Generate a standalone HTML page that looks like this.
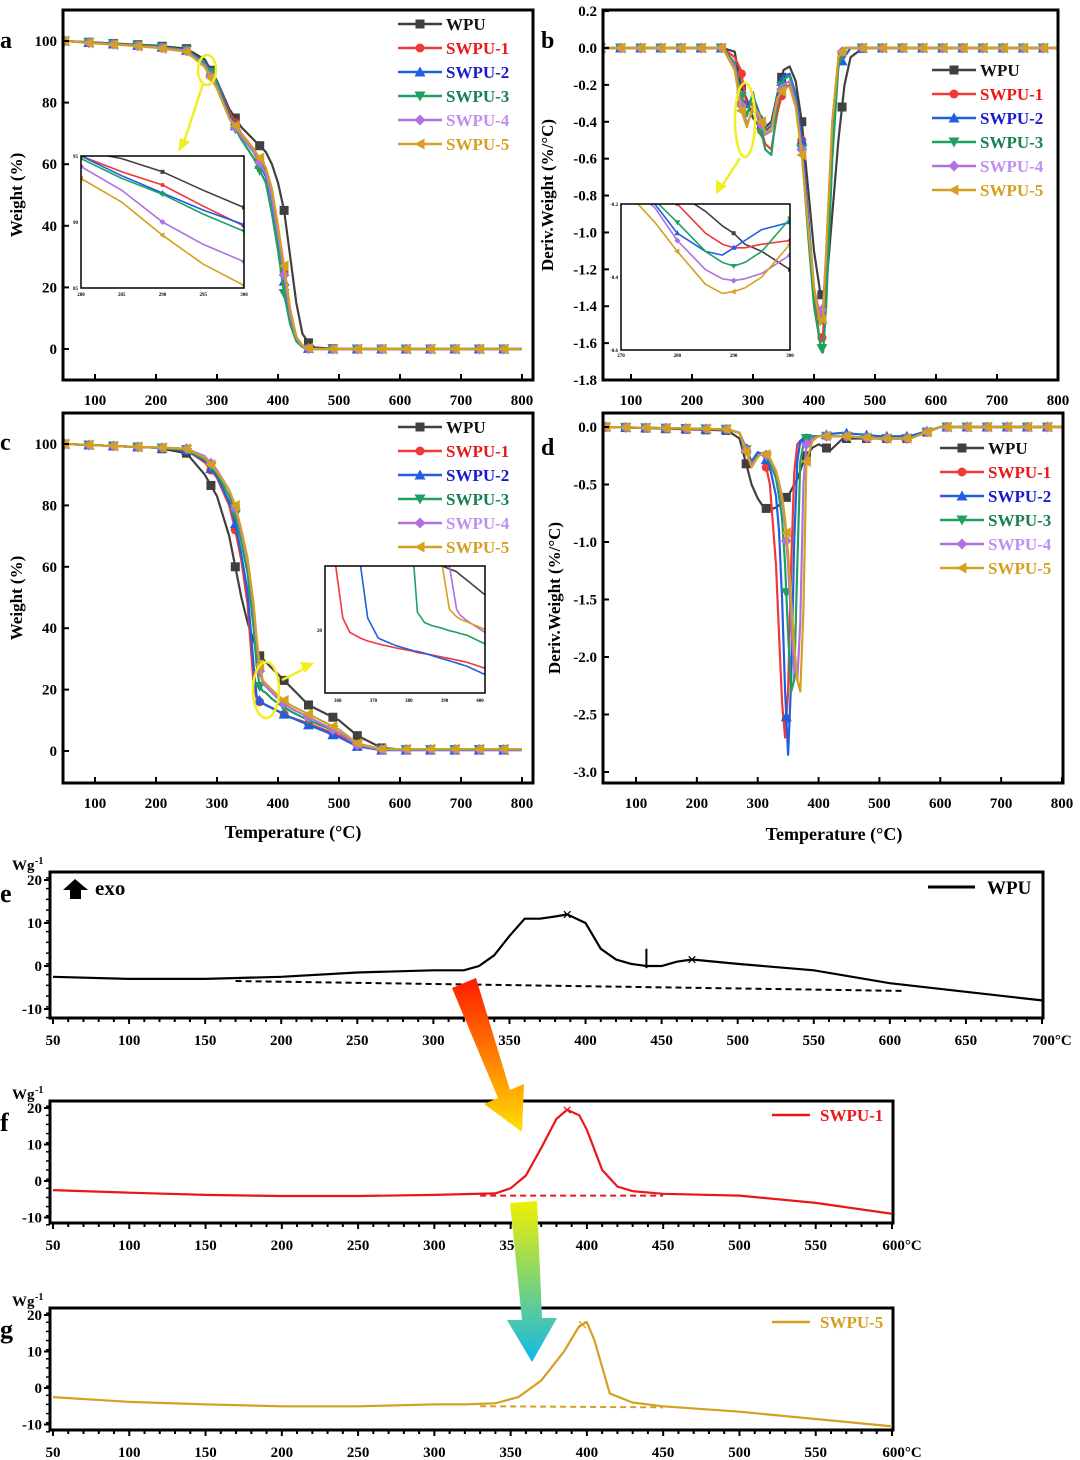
<!DOCTYPE html>
<html><head><meta charset="utf-8"><style>
html,body{margin:0;padding:0;background:#fff;}
svg{display:block;font-family:"Liberation Serif",serif;font-weight:bold;}
</style></head><body>
<svg id="fig" width="1080" height="1460" viewBox="0 0 1080 1460" xmlns="http://www.w3.org/2000/svg">
<defs>
<linearGradient id="g1" x1="0" y1="0" x2="0" y2="1"><stop offset="0" stop-color="#ff1a00"/><stop offset="1" stop-color="#ffe000"/></linearGradient>
<linearGradient id="g2" x1="0" y1="0" x2="0" y2="1"><stop offset="0" stop-color="#f0f000"/><stop offset="1" stop-color="#10b8e8"/></linearGradient>
</defs>
</svg>
<script>
// ---- data ----
const seriesNames = ["WPU","SWPU-1","SWPU-2","SWPU-3","SWPU-4","SWPU-5"];
// panel a: TGA weight (%)
const aT = [50,100,150,200,250,280,300,320,340,360,380,390,400,410,420,430,440,450,460,500,600,700,800];
const aWPU  =[100,99.5,99,98.5,97.5,94,87,78,72,68,64,60,54,45,30,15,5,2,0.5,0,0,0,0];
const aS1   =[100,99.4,98.8,98.2,97,93,87,77,70,65,58,50,38,25,12,4,1,0.3,0,0,0,0,0];
const aS2   =[100,99.4,98.8,98.2,97,93,87,76,69,64,56,48,36,22,10,3,0.8,0.2,0,0,0,0,0];
const aS3   =[100,99.4,98.8,98.2,97,92.8,86.5,75,68,62,54,44,32,18,8,2.5,0.6,0,0,0,0,0,0];
const aS4   =[100,99.3,98.7,98,96.8,92,85,75,69,64,57,49,37,24,11,3.5,0.8,0.2,0,0,0,0,0];
const aS5   =[100,99.2,98.6,97.8,96.5,91.5,84.5,75,70,65,59,52,40,27,13,4,1,0.3,0,0,0,0,0];
// inset a
const aiT=[280,285,290,295,300];
const aiWPU=[95.4,94.8,93.8,92.4,91.1];
const aiS1=[95,93.8,92.8,91.2,89.7];
const aiS2=[95,93.5,92.2,90.9,89.8];
const aiS3=[94.8,93.3,92.1,90.6,89.3];
const aiS4=[94.2,92.4,90.0,88.3,87.0];
const aiS5=[93.3,91.5,89,86.8,85.2];
// panel b: DTG
const bT=[50,250,270,280,290,300,310,320,330,340,350,360,370,380,390,400,410,415,420,430,440,450,460,480,800];
const bWPU=[0,0,-0.02,-0.2,-0.28,-0.38,-0.42,-0.43,-0.4,-0.25,-0.12,-0.1,-0.18,-0.4,-0.75,-1.1,-1.32,-1.35,-1.3,-0.9,-0.5,-0.2,-0.05,0,0];
const bS1=[0,0,-0.05,-0.12,-0.32,-0.3,-0.4,-0.52,-0.55,-0.35,-0.22,-0.2,-0.3,-0.5,-0.9,-1.35,-1.6,-1.55,-1.2,-0.5,-0.08,0,0,0,0];
const bS2=[0,0,-0.08,-0.28,-0.32,-0.26,-0.35,-0.45,-0.42,-0.25,-0.15,-0.14,-0.25,-0.5,-0.9,-1.3,-1.5,-1.45,-1.15,-0.45,-0.1,-0.05,0,0,0];
const bS3=[0,0,-0.08,-0.25,-0.37,-0.24,-0.4,-0.55,-0.58,-0.3,-0.17,-0.15,-0.28,-0.55,-1.0,-1.4,-1.6,-1.65,-1.4,-0.6,-0.1,0,0,0,0];
const bS4=[0,0,-0.1,-0.3,-0.41,-0.34,-0.38,-0.47,-0.45,-0.28,-0.2,-0.18,-0.3,-0.55,-0.95,-1.3,-1.45,-1.4,-1.1,-0.4,-0.05,0,0,0,0];
const bS5=[0,0,-0.12,-0.33,-0.43,-0.31,-0.36,-0.46,-0.44,-0.27,-0.22,-0.21,-0.32,-0.58,-0.95,-1.3,-1.5,-1.45,-1.1,-0.4,-0.05,0,0,0,0];
// inset b
const biT=[270,273,276,280,285,288,290,292,295,300];
const biWPU=[-0.1,-0.12,-0.15,-0.17,-0.22,-0.26,-0.28,-0.31,-0.33,-0.38];
const biS1=[-0.1,-0.13,-0.16,-0.2,-0.28,-0.31,-0.32,-0.32,-0.31,-0.3];
const biS2=[-0.14,-0.17,-0.2,-0.28,-0.33,-0.34,-0.32,-0.3,-0.27,-0.25];
const biS3=[-0.12,-0.15,-0.19,-0.25,-0.33,-0.36,-0.37,-0.36,-0.33,-0.24];
const biS4=[-0.14,-0.17,-0.21,-0.3,-0.38,-0.405,-0.41,-0.405,-0.39,-0.34];
const biS5=[-0.15,-0.2,-0.25,-0.33,-0.42,-0.445,-0.44,-0.43,-0.4,-0.31];
// panel c: TGA
const cT=[50,100,150,200,250,280,300,320,330,340,350,360,365,370,375,380,390,400,420,450,500,530,570,600,800];
const cWPU=[100,99.6,99.2,98.8,97,90,83,70,60,50,42,36,33,31,30,29,27,25,21,15,10,5,1,0.5,0.5];
const cS1=[100,99.6,99.2,98.8,98,94,89,80,72,62,48,22,17,16,15.5,15,14,13,11,9,5,2,0.5,0.5,0.5];
const cS2=[100,99.6,99.2,98.8,98,94.5,89.5,81,74,64,52,28,18,16.5,15.5,15,14,13,11,8.5,4.5,1.5,0.3,0.3,0.3];
const cS3=[100,99.6,99.2,98.8,98.2,95,90.5,83,77,68,58,40,28,21,19.5,19,17,15.5,13,10,6,2,0.5,0.5,0.5];
const cS4=[100,99.6,99.2,98.9,98.5,96,91.5,85,79,71,62,46,35,26,22,21,19,17,14,11,6,2,0.5,0.5,0.5];
const cS5=[100,99.6,99.2,98.9,98.4,95.5,91,85,80,72,63,48,37,28,23,22,20,18,15,12,7,2.5,0.6,0.6,0.6];
// inset c
const ciT=[355,358,360,362,365,367,370,375,380,381,383,385,388,390,392,393,395,400];
const ciWPU=[null,null,null,null,null,null,null,null,null,null,null,null,30,29.5,29,28.5,27.5,25];
const ciS1=[null,30,21,18.5,17.5,17,16.5,15.8,15.2,15,14.8,14.6,14.2,14,13.7,13.6,13.3,12.3];
const ciS2=[null,null,null,null,30,21,17.5,16.2,15.3,15.2,14.9,14.5,13.9,13.6,13.2,13,12.6,11.2];
const ciS3=[null,null,null,null,null,null,null,null,30,22,20.2,19.7,19.2,18.8,18.5,18.3,18,16.5];
const ciS4=[null,null,null,null,null,null,null,null,null,null,null,null,null,30,22.5,21.5,20.5,18.5];
const ciS5=[null,null,null,null,null,null,null,null,null,null,null,null,30,22.5,21.2,20.8,20.3,19];
// panel d: DTG
const dT=[50,250,270,290,300,310,320,330,335,340,345,350,355,360,365,370,375,380,390,400,420,440,500,550,600,800];
const dWPU=[0,-0.03,-0.1,-0.5,-0.62,-0.7,-0.72,-0.7,-0.68,-0.65,-0.62,-0.6,-0.55,-0.5,-0.45,-0.38,-0.3,-0.25,-0.18,-0.15,-0.2,-0.1,-0.1,-0.1,0,0];
const dS1=[0,-0.02,-0.05,-0.3,-0.22,-0.25,-0.5,-1.2,-1.8,-2.4,-2.7,-2.3,-1.2,-0.4,-0.15,-0.12,-0.1,-0.1,-0.08,-0.08,-0.08,-0.08,-0.1,-0.1,0,0];
const dS2=[0,-0.02,-0.05,-0.3,-0.22,-0.24,-0.35,-0.6,-0.9,-1.5,-2.3,-2.85,-2.2,-1.0,-0.3,-0.12,-0.1,-0.1,-0.08,-0.08,-0.06,-0.05,-0.08,-0.08,0,0];
const dS3=[0,-0.02,-0.05,-0.32,-0.25,-0.23,-0.3,-0.45,-0.6,-0.8,-1.2,-1.8,-2.3,-2.2,-1.2,-0.3,-0.15,-0.1,-0.08,-0.08,-0.08,-0.08,-0.1,-0.1,0,0];
const dS4=[0,-0.02,-0.05,-0.33,-0.26,-0.22,-0.28,-0.4,-0.5,-0.65,-0.85,-1.2,-1.7,-2.1,-2.2,-1.7,-0.5,-0.15,-0.1,-0.08,-0.08,-0.08,-0.1,-0.1,0,0];
const dS5=[0,-0.02,-0.05,-0.35,-0.26,-0.22,-0.27,-0.38,-0.48,-0.6,-0.8,-1.1,-1.5,-1.9,-2.2,-2.3,-1.6,-0.3,-0.12,-0.08,-0.08,-0.08,-0.1,-0.1,0,0];
// DSC panels
const eT=[50,100,150,200,250,300,320,330,340,350,360,370,380,388,400,410,420,430,440,450,460,470,500,550,600,650,700];
const eWPU=[-2.5,-3,-3,-2.5,-1.5,-1,-1,0,2.5,7,11,11,11.5,12,10,4,1.5,0.5,0,0,1,1.5,0.5,-1,-4,-6,-8];
const eBaseT=[170,610];
const eBaseV=[-3.5,-5.8];
const fT=[50,100,150,200,250,300,320,340,350,360,370,380,387,395,400,410,420,430,450,500,550,600];
const fS1=[-2.5,-3.2,-3.8,-4.1,-4.1,-3.8,-3.6,-3.4,-2,1.5,9,17,19.5,18,14,3,-1.5,-2.8,-3.5,-4,-6,-9];
const fBaseT=[330,450];
const fBaseV=[-4,-4];
const gT=[50,100,150,200,250,300,320,340,355,370,385,395,400,405,415,430,450,500,550,600];
const gS5=[-2.5,-3.8,-4.5,-5,-5,-4.5,-4.5,-4.2,-2.5,2,10,17,18,13,-1.5,-4,-5,-6.5,-8.5,-10.5];
const gBaseT=[330,450];
const gBaseV=[-5,-5.3];

const colors=["#404040","#f03838","#2060e0","#20a060","#b070e0","#d4a020"];
const textColors=["#111","#e81818","#1a1acc","#158050","#c090f0","#d4a020"];
const NS="http://www.w3.org/2000/svg";
const svg=document.getElementById('fig');
function el(tag,attrs,parent){const e=document.createElementNS(NS,tag);for(const k in attrs)e.setAttribute(k,attrs[k]);(parent||svg).appendChild(e);return e;}
function scale(d0,d1,r0,r1){return v=>r0+(v-d0)*(r1-r0)/(d1-d0);}
function interp(T,V,t){for(let i=0;i<T.length-1;i++){if(t>=T[i]&&t<=T[i+1]){if(V[i]==null||V[i+1]==null)return null;return V[i]+(V[i+1]-V[i])*(t-T[i])/(T[i+1]-T[i]);}}return null;}
function marker(g,shape,x,y,c,s){
  s=s||4.5;let e;
  if(shape===0)e=el('rect',{x:x-s,y:y-s,width:2*s,height:2*s,fill:c},g);
  else if(shape===1)e=el('circle',{cx:x,cy:y,r:s,fill:c},g);
  else if(shape===2)e=el('polygon',{points:`${x},${y-s-1} ${x-s-1},${y+s} ${x+s+1},${y+s}`,fill:c},g);
  else if(shape===3)e=el('polygon',{points:`${x},${y+s+1} ${x-s-1},${y-s} ${x+s+1},${y-s}`,fill:c},g);
  else if(shape===4)e=el('polygon',{points:`${x},${y-s-1} ${x+s+1},${y} ${x},${y+s+1} ${x-s-1},${y}`,fill:c},g);
  else e=el('polygon',{points:`${x-s-1},${y} ${x+s},${y-s-1} ${x+s},${y+s+1}`,fill:c},g);
  return e;
}
function pathFrom(T,V,xs,ys){let d='',pen=false;for(let i=0;i<T.length;i++){if(V[i]==null){pen=false;continue;}d+=(pen?'L':'M')+xs(T[i]).toFixed(1)+','+ys(V[i]).toFixed(1);pen=true;}return d;}
function frame(name,x0,y0,x1,y1,sw){
  const r=el('rect',{x:x0,y:y0,width:x1-x0,height:y1-y0,fill:'none',stroke:'#000','stroke-width':sw||3});
  
}
function txt(s,x,y,opt,parent){const t=el('text',Object.assign({x:x,y:y,'font-size':15,fill:'#000'},opt||{}),parent);t.textContent=s;return t;}
function series(name,T,V,xs,ys,idx,step,mk,w,cl){
  const g=el('g',{});
  if(cl)g.setAttribute('clip-path',cl);
  el('path',{d:pathFrom(T,V,xs,ys),fill:'none',stroke:colors[idx],'stroke-width':w||2.2,'stroke-linejoin':'round'},g);
  if(step){for(let t=T[0];t<=T[T.length-1];t+=step){const v=interp(T,V,t);if(v==null)continue;marker(g,idx,xs(t),ys(v),colors[idx],mk||4.5);}}
}
function legend(x,y,dy,fs){
  const g=el('g',{});
  seriesNames.forEach((n,i)=>{
    const e=el('g',{},g);
    const yy=y+i*dy;el('line',{x1:x,y1:yy,x2:x+44,y2:yy,stroke:colors[i],'stroke-width':2.5},e);
    marker(e,i,x+22,yy,colors[i],4.5);
    txt(n,x+48,yy+6,{'font-size':fs||17,fill:textColors[i]},e);
  });
}
function xTicks(xs,ticks,yb,ylab,fs,len){
  ticks.forEach(t=>{el('line',{x1:xs(t),y1:yb,x2:xs(t),y2:yb-(len||6),stroke:'#000','stroke-width':2});
    const l=txt(String(t),xs(t),ylab,{'text-anchor':'middle','font-size':fs||15});});
}
function yTicks(ys,ticks,xl,fmt,fs){
  ticks.forEach(t=>{el('line',{x1:xl,y1:ys(t),x2:xl+6,y2:ys(t),stroke:'#000','stroke-width':2});
    const l=txt(fmt?fmt(t):String(t),xl-6,ys(t)+5,{'text-anchor':'end','font-size':fs||15});});
}
const allA=[aWPU,aS1,aS2,aS3,aS4,aS5],allAI=[aiWPU,aiS1,aiS2,aiS3,aiS4,aiS5];
const allB=[bWPU,bS1,bS2,bS3,bS4,bS5],allBI=[biWPU,biS1,biS2,biS3,biS4,biS5];
const allC=[cWPU,cS1,cS2,cS3,cS4,cS5],allCI=[ciWPU,ciS1,ciS2,ciS3,ciS4,ciS5];
const allD=[dWPU,dS1,dS2,dS3,dS4,dS5];
const clip=(id,x,y,w,h)=>{const c=el('clipPath',{id:id});el('rect',{x:x,y:y,width:w,height:h},c);};
const ticks100=[100,200,300,400,500,600,700,800];

// ---- panel a ----
{const xs=scale(100,800,95,522),ys=scale(0,100,349,41);
 clip('ca',63,10,470,370);
 allA.forEach((V,i)=>series('tga-a-'+seriesNames[i],aT,V,xs,ys,i,40,4.5,2.2,'url(#ca)'));
 frame('panel-a-frame',63,10,533,380);
 xTicks(xs,ticks100,380,405);yTicks(ys,[0,20,40,60,80,100],63);
 txt('a',0,48,{'font-size':24});
 const yt=txt('Weight (%)',22,195,{'text-anchor':'middle','font-size':17,transform:'rotate(-90 22 195)'});
 legend(398,24,24,17);
 const ix=scale(280,300,81,244),iy=scale(95,85,156,288);
 clip('cai',81,156,163,132);
 el('rect',{x:81,y:156,width:163,height:132,fill:'#fff'});
 allAI.forEach((V,i)=>series('inset-a-'+seriesNames[i],aiT,V,ix,iy,i,10,2,1.6,'url(#cai)'));
 frame('inset-a',81,156,244,288,1.5);
 [280,285,290,295,300].forEach(t=>txt(String(t),ix(t),296,{'text-anchor':'middle','font-size':5}));
 [95,90,85].forEach(v=>txt(String(v),78,iy(v)+2,{'text-anchor':'end','font-size':5}));
 el('ellipse',{cx:207,cy:70,rx:9,ry:15,fill:'none',stroke:'#f0f020','stroke-width':2.5});
 el('line',{x1:203,y1:84,x2:183,y2:145,stroke:'#f0f020','stroke-width':2.5});
 el('polygon',{points:'178,152 180,138 190,142',fill:'#f0f020'});
}
// ---- panel b ----
{const xs=scale(100,800,631,1058),ys=scale(0,-1.8,48,380);
 clip('cb',603,10,455,370);
 allB.forEach((V,i)=>series('dtg-b-'+seriesNames[i],bT,V,xs,ys,i,33,4.5,2.2,'url(#cb)'));
 frame('panel-b-frame',603,10,1058,380);
 xTicks(xs,ticks100,380,405);
 yTicks(ys,[0.2,0,-0.2,-0.4,-0.6,-0.8,-1.0,-1.2,-1.4,-1.6,-1.8],603,v=>v.toFixed(1));
 txt('b',541,48,{'font-size':24});
 const yt=txt('Deriv.Weight (%/°C)',553,195,{'text-anchor':'middle','font-size':17,transform:'rotate(-90 553 195)'});
 legend(932,70,24,17);
 const ix=scale(270,300,621,790),iy=scale(-0.2,-0.6,204,350);
 clip('cbi',621,204,169,146);
 el('rect',{x:621,y:204,width:169,height:146,fill:'#fff'});
 allBI.forEach((V,i)=>series('inset-b-'+seriesNames[i],biT,V,ix,iy,i,10,2,1.6,'url(#cbi)'));
 frame('inset-b',621,204,790,350,1.5);
 [270,280,290,300].forEach(t=>txt(String(t),ix(t),357,{'text-anchor':'middle','font-size':5}));
 [-0.2,-0.4,-0.6].forEach(v=>txt(v.toFixed(1),618,iy(v)+2,{'text-anchor':'end','font-size':5}));
 el('ellipse',{cx:745,cy:120,rx:10,ry:37,fill:'none',stroke:'#f0f020','stroke-width':2.5});
 el('line',{x1:740,y1:158,x2:722,y2:186,stroke:'#f0f020','stroke-width':2.5});
 el('polygon',{points:'716,194 716,180 727,186',fill:'#f0f020'});
}
// ---- panel c ----
{const xs=scale(100,800,95,522),ys=scale(0,100,751,444);
 clip('cc',63,413,470,370);
 allC.forEach((V,i)=>series('tga-c-'+seriesNames[i],cT,V,xs,ys,i,40,4.5,2.2,'url(#cc)'));
 frame('panel-c-frame',63,413,533,783);
 xTicks(xs,ticks100,783,808);yTicks(ys,[0,20,40,60,80,100],63);
 txt('c',0,450,{'font-size':24});
 const yt=txt('Weight (%)',22,598,{'text-anchor':'middle','font-size':17,transform:'rotate(-90 22 598)'});
 const xt=txt('Temperature (°C)',293,838,{'text-anchor':'middle','font-size':18});
 legend(398,427,24,17);
 const ix=scale(355,400,325,485),iy=scale(30,8,566,693);
 clip('cci',325,566,160,127);
 el('rect',{x:325,y:566,width:160,height:127,fill:'#fff'});
 allCI.forEach((V,i)=>series('inset-c-'+seriesNames[i],ciT,V,ix,iy,i,null,2,1.6,'url(#cci)'));
 frame('inset-c',325,566,485,693,1.5);
 [360,370,380,390,400].forEach(t=>txt(String(t),ix(t)-5,702,{'text-anchor':'middle','font-size':5}));
 txt('20',322,632,{'text-anchor':'end','font-size':5});
 el('ellipse',{cx:266,cy:690,rx:13,ry:28,fill:'none',stroke:'#f0f020','stroke-width':2.5});
 el('line',{x1:282,y1:680,x2:306,y2:668,stroke:'#f0f020','stroke-width':2.5});
 el('polygon',{points:'314,663 300,662 305,673',fill:'#f0f020'});
}
// ---- panel d ----
{const xs=scale(100,800,636,1062),ys=scale(0,-3,427,772);
 clip('cd',603,413,460,370);
 allD.forEach((V,i)=>series('dtg-d-'+seriesNames[i],dT,V,xs,ys,i,33,4.5,2.2,'url(#cd)'));
 frame('panel-d-frame',603,413,1063,783);
 xTicks(xs,ticks100,783,808);
 yTicks(ys,[0,-0.5,-1,-1.5,-2,-2.5,-3],603,v=>v.toFixed(1));
 txt('d',541,455,{'font-size':24});
 const yt=txt('Deriv.Weight (%/°C)',560,598,{'text-anchor':'middle','font-size':17,transform:'rotate(-90 560 598)'});
 const xt=txt('Temperature (°C)',834,840,{'text-anchor':'middle','font-size':18});
 legend(940,448,24,17);
}
// ---- DSC panels ----
function dscPanel(letter,x1,y0,y1,tmax,ys,T,V,col,bT_,bV,peakX){
 const xs=scale(50,tmax,53,x1-1);
 frame('panel-'+letter+'-frame',50,y0,x1,y1);
 const p=el('path',{d:pathFrom(T,V,xs,ys),fill:'none',stroke:col,'stroke-width':2.2});
 
 const b=el('line',{x1:xs(bT_[0]),y1:ys(bV[0]),x2:xs(bT_[1]),y2:ys(bV[1]),stroke:col,'stroke-width':2,'stroke-dasharray':'6,4'});
 
 for(let t=50;t<=tmax;t+=10){el('line',{x1:xs(t),y1:y1,x2:xs(t),y2:y1+((t%50===0)?6:4),stroke:'#000','stroke-width':2});}
 for(let t=50;t<=tmax;t+=50){const l=txt(String(t)+(t===tmax?'°C':''),xs(t)+(t===tmax?10:0),y1+27,{'text-anchor':'middle','font-size':15});}
 [20,10,0,-10].forEach(v=>{el('line',{x1:50,y1:ys(v),x2:44,y2:ys(v),stroke:'#000','stroke-width':2});
  const l=txt(String(v),42,ys(v)+5,{'text-anchor':'end','font-size':15});});
 for(let v=-12;v<=22;v+=2.5)el('line',{x1:50,y1:ys(v),x2:46,y2:ys(v),stroke:'#000','stroke-width':1.5});
 txt('W',12,y0-2,{'font-size':15});txt('g',27,y0-2,{'font-size':15});txt('-1',35,y0-8,{'font-size':10});
 txt(letter,0,y0+30,{'font-size':26});
 const pv=interp(T,V,peakX);txt('×',xs(peakX),ys(pv)+6,{'text-anchor':'middle','font-size':18,fill:col});
 return xs;
}
{const ys=scale(0,20,966,880);
 const xs=dscPanel('e',1043,872,1018,700,ys,eT,eWPU,'#000',eBaseT,eBaseV,388);
 const pv=interp(eT,eWPU,470);txt('×',xs(470),ys(pv)+6,{'text-anchor':'middle','font-size':18});
 el('line',{x1:xs(440),y1:ys(-0.5),x2:xs(440),y2:ys(4),stroke:'#000','stroke-width':2});
 const lg=el('g',{});
 el('line',{x1:928,y1:887,x2:975,y2:887,stroke:'#000','stroke-width':3},lg);
 txt('WPU',987,894,{'font-size':19},lg);
 el('polygon',{points:'75,879 63,890 70,890 70,899 81,899 81,890 88,890',fill:'#000'});
 txt('exo',95,895,{'font-size':21});
}
{const ys=scale(0,20,1181,1108);
 dscPanel('f',893,1101,1223,600,ys,fT,fS1,'#e81818',fBaseT,fBaseV,387);
 const lg=el('g',{});
 el('line',{x1:772,y1:1115,x2:810,y2:1115,stroke:'#e81818','stroke-width':2.5},lg);
 txt('SWPU-1',820,1121,{'font-size':17,fill:'#e81818'},lg);
}
{const ys=scale(0,20,1388,1315);
 dscPanel('g',893,1308,1430,600,ys,gT,gS5,'#d4a020',gBaseT,gBaseV,397);
 const lg=el('g',{});
 el('line',{x1:772,y1:1322,x2:810,y2:1322,stroke:'#d4a020','stroke-width':2.5},lg);
 txt('SWPU-5',820,1328,{'font-size':17,fill:'#d4a020'},lg);
}
// gradient arrows
{const a1=el('polygon',{points:'452,988 476,978 510,1090 524,1084 522,1132 484,1104 498,1098 ',fill:'url(#g1)'});
 
 const a2=el('polygon',{points:'510,1203 537,1201 542,1318 557,1318 532,1362 507,1320 522,1320',fill:'url(#g2)'});
 }
</script>
</body></html>
